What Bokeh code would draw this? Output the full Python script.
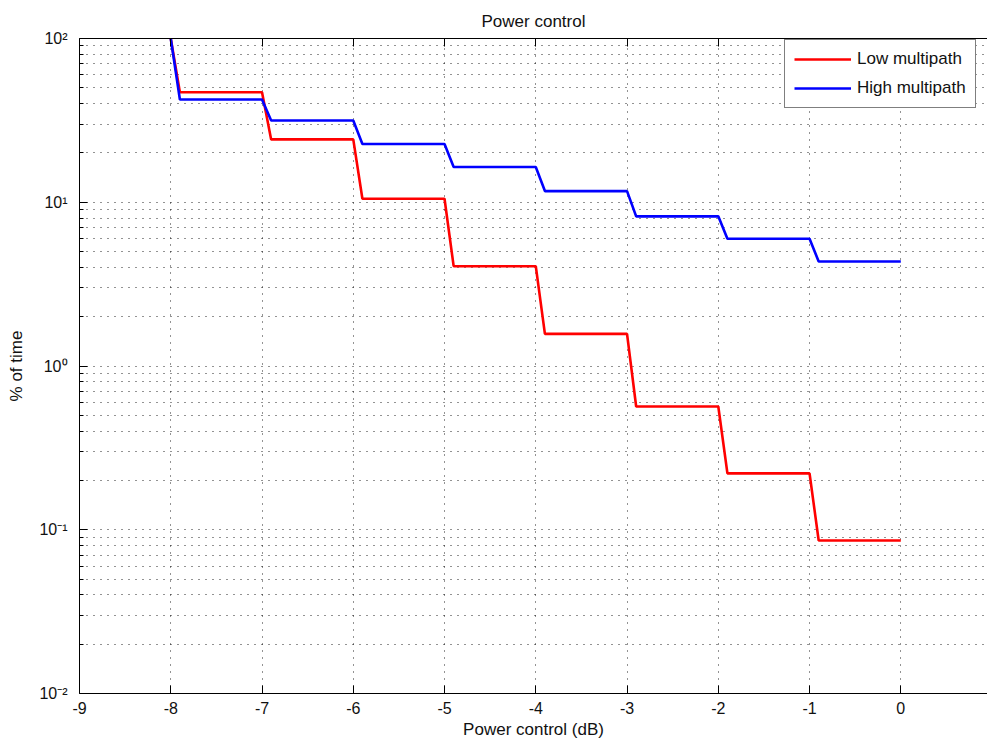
from bokeh.plotting import figure
from bokeh.models import FixedTicker, LinearAxis, Legend, LegendItem, Range1d
from bokeh.embed import file_html
from bokeh.resources import INLINE

FONT = "Liberation Sans"

# ---- data ----
x_low = [-8, -7.9, -7, -6.9, -6, -5.9, -5, -4.9, -4, -3.9, -3, -2.9, -2, -1.9, -1, -0.9, 0]
y_low = [100, 47, 47, 24.2, 24.2, 10.5, 10.5, 4.07, 4.07, 1.57, 1.57, 0.566, 0.566, 0.221, 0.221, 0.086, 0.086]

x_high = [-8, -7.9, -7, -6.9, -6, -5.9, -5, -4.9, -4, -3.9, -3, -2.9, -2, -1.9, -1, -0.9, 0]
y_high = [100, 42.4, 42.4, 31.6, 31.6, 22.7, 22.7, 16.4, 16.4, 11.7, 11.7, 8.2, 8.2, 5.98, 5.98, 4.35, 4.35]

series_names = ["Low multipath", "High multipath"]
x_ticks = [-9, -8, -7, -6, -5, -4, -3, -2, -1, 0]
x_tick_labels = ["-9", "-8", "-7", "-6", "-5", "-4", "-3", "-2", "-1", "0"]
y_ticks = [0.01, 0.1, 1, 10, 100]
y_tick_labels = ["10\u207b\u00b2", "10\u207b\u00b9", "10\u2070", "10\u00b9", "10\u00b2"]
y_minor_ticks = [k * d for d in [0.01, 0.1, 1, 10] for k in range(2, 10)]

title_text = "Power control"
x_label = "Power control (dB)"
y_label = "% of time"

p = figure(
    frame_width=908, frame_height=655,
    min_border_left=79, min_border_right=0, min_border_top=38, min_border_bottom=52,
    x_range=Range1d(-9, 0.95), y_range=Range1d(0.01, 100),
    y_axis_type="log",
    output_backend="svg", toolbar_location=None,
    background_fill_color="white", border_fill_color="white",
)
p.outline_line_color = None

p.title.text = title_text
p.title.align = "center"
p.title.text_font = FONT
p.title.text_font_size = "17px"
p.title.text_font_style = "normal"
p.title.text_color = "#111111"
p.title.standoff = 16

# axes
xt = FixedTicker(ticks=x_ticks)
yt = FixedTicker(ticks=y_ticks, minor_ticks=y_minor_ticks)
p.xaxis.ticker = xt
p.yaxis.ticker = yt
p.xaxis.major_label_overrides = {v: s for v, s in zip(x_ticks, x_tick_labels)}
p.yaxis.major_label_overrides = {v: s for v, s in zip(y_ticks, y_tick_labels)}

for ax in (p.xaxis[0], p.yaxis[0]):
    ax.axis_line_color = "black"
    ax.axis_line_width = 1
    ax.major_tick_in = 8
    ax.major_tick_out = 0
    ax.minor_tick_in = 4
    ax.minor_tick_out = 0
    ax.major_tick_line_color = "black"
    ax.minor_tick_line_color = "black"
    ax.major_label_text_font = FONT
    ax.major_label_text_font_size = "16px"
    ax.major_label_text_color = "#111111"
    ax.axis_label_text_font = FONT
    ax.axis_label_text_font_size = "17px"
    ax.axis_label_text_font_style = "normal"
    ax.axis_label_text_color = "#111111"

p.xaxis.axis_label = x_label
p.xaxis.major_label_standoff = 8
p.xaxis.axis_label_standoff = 3
p.yaxis.axis_label = y_label
p.yaxis.major_label_standoff = 12
p.yaxis.axis_label_standoff = 10

# top box edge with inward ticks, no labels
top_axis = LinearAxis(ticker=FixedTicker(ticks=x_ticks),
                      major_label_overrides={v: "" for v in x_ticks},
                      major_label_text_font_size="1px",
                      major_tick_in=8, major_tick_out=0, minor_tick_in=0, minor_tick_out=0,
                      major_label_standoff=0, axis_line_color="black")
p.add_layout(top_axis, "above")

# grid
for g in (p.xgrid[0], p.ygrid[0]):
    g.grid_line_color = "black"
    g.grid_line_dash = "1 6"
    g.grid_line_alpha = 0.85
p.ygrid.minor_grid_line_color = "black"
p.ygrid.minor_grid_line_dash = "1 6"
p.ygrid.minor_grid_line_alpha = 0.85

r_low = p.line(x_low, y_low, line_color="#ff0000", line_width=2.6)
r_high = p.line(x_high, y_high, line_color="#0000ff", line_width=2.6)

legend = Legend(
    items=[LegendItem(label=series_names[0], renderers=[r_low]),
           LegendItem(label=series_names[1], renderers=[r_high])],
    location=(705, 585),
    border_line_color="black", border_line_width=1,
    background_fill_color="white", background_fill_alpha=1,
    label_text_font=FONT, label_text_font_size="17px", label_text_color="#111111",
    glyph_width=57, glyph_height=20, label_height=20, spacing=9,
    padding=9, label_standoff=6, margin=0,
)
p.add_layout(legend)

open("out.html", "w").write(file_html(p, INLINE))
